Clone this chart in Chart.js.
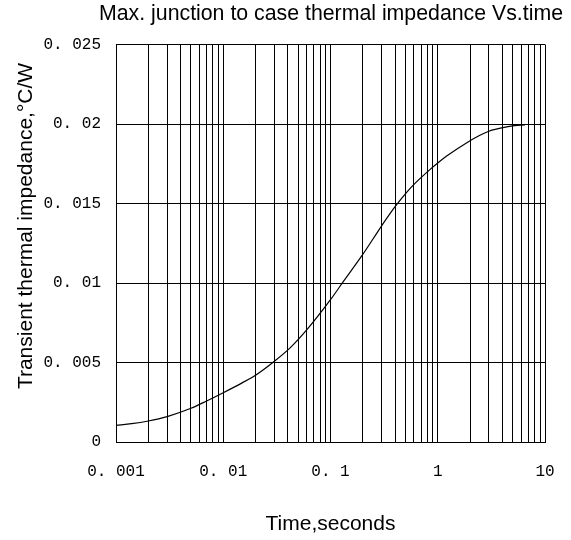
<!DOCTYPE html>
<html>
<head>
<meta charset="utf-8">
<script src="https://cdn.jsdelivr.net/npm/chart.js@4.4.1/dist/chart.umd.min.js"></script>
<style>
  html, body { margin: 0; padding: 0; background: #fff; }
  #wrap { width: 571px; height: 540px; position: relative; }
</style>
</head>
<body>
<div id="wrap"><canvas id="impedance-chart"></canvas></div>
<script>
// curve (time in s, impedance in °C/W)
const times = [0.001, 0.0014, 0.002, 0.003, 0.005, 0.007, 0.01, 0.015, 0.02, 0.03, 0.042, 0.06,
    0.1, 0.132, 0.2, 0.3, 0.4, 0.52, 0.62, 0.85, 1.0, 1.22, 2.0, 2.4, 3.0, 4.4, 5.2, 6.5];
const impedance = [0.00105, 0.00115, 0.00132, 0.0016, 0.00212, 0.00258, 0.0031, 0.00372, 0.0042, 0.00508, 0.00592, 0.00705,
    0.00895, 0.0101, 0.0118, 0.0136, 0.0148, 0.01575, 0.0163, 0.01715, 0.01755, 0.018, 0.01895, 0.01925, 0.01955, 0.01982, 0.0199, 0.01995];

const xDecades = [0.001, 0.01, 0.1, 1];
const xSteps = [1, 2, 3, 4, 5, 6, 7, 8, 9];
const xTickValues = [0.001, 0.01, 0.1, 1, 10];
const xTickLabels = ['0. 001', '0. 01', '0. 1', '1', '10'];
const yTickValues = [0, 0.005, 0.01, 0.015, 0.02, 0.025];
const yTickLabels = ['0', '0. 005', '0. 01', '0. 015', '0. 02', '0. 025'];

const chartTitle = 'Max. junction to case thermal impedance Vs.time';
const xTitle = 'Time,seconds';
const yTitle = 'Transient thermal impedance,\u00b0C/W';

// log grid: 1..9 in every decade, plus the end value
const gridTimes = [];
xDecades.forEach(d => xSteps.forEach(s => gridTimes.push(+(d * s).toPrecision(3))));
gridTimes.push(10);

// y axis title sits a little above the plot middle in the original
const yTitlePlugin = {
    id: 'yTitle',
    afterDraw(chart) {
        const ctx = chart.ctx;
        ctx.save();
        ctx.translate(26, 226);
        ctx.rotate(-Math.PI / 2);
        ctx.font = '21px "Liberation Sans", Arial, sans-serif';
        ctx.fillStyle = '#000';
        ctx.textAlign = 'center';
        ctx.textBaseline = 'middle';
        ctx.fillText(yTitle, 0, 0);
        ctx.restore();
    }
};

const ctx = document.getElementById('impedance-chart');

new Chart(ctx, {
    type: 'line',
    data: {
        datasets: [{
            data: times.map((t, i) => ({ x: t, y: impedance[i] })),
            borderColor: '#000',
            borderWidth: 1.2,
            pointRadius: 0,
            fill: false,
            cubicInterpolationMode: 'monotone'
        }]
    },
    options: {
        responsive: true,
        maintainAspectRatio: false,
        animation: false,
        layout: { padding: { left: 0, right: 8, top: 0, bottom: 0 } },
        plugins: {
            legend: { display: false },
            tooltip: { enabled: false },
            title: {
                display: true,
                text: chartTitle,
                align: 'end',
                color: '#000',
                font: { family: '"Liberation Sans", Arial, sans-serif', size: 21.3, weight: 'normal' },
                padding: { top: 1, bottom: 18 }
            }
        },
        scales: {
            x: {
                type: 'logarithmic',
                min: 0.001,
                max: 10,
                afterBuildTicks: scale => {
                    scale.ticks = gridTimes.map(v => ({ value: v }));
                },
                afterFit: scale => {
                    scale.height = 98;
                    scale.paddingRight = 26;
                },
                grid: { color: '#000', lineWidth: 1, drawTicks: false },
                border: { color: '#000', width: 1 },
                ticks: {
                    autoSkip: false,
                    maxRotation: 0,
                    padding: 20,
                    color: '#000',
                    font: { family: '"Liberation Mono", monospace', size: 16 },
                    callback: value => {
                        const k = xTickValues.findIndex(v => Math.abs(v - value) < v * 1e-6);
                        return k >= 0 ? xTickLabels[k] : '';
                    }
                },
                title: {
                    display: true,
                    text: xTitle,
                    color: '#000',
                    font: { family: '"Liberation Sans", Arial, sans-serif', size: 21 },
                    padding: { top: 0, bottom: 3 }
                }
            },
            y: {
                min: 0,
                max: 0.025,
                afterBuildTicks: scale => {
                    scale.ticks = yTickValues.map(v => ({ value: v }));
                },
                afterFit: scale => { scale.width = 116; },
                grid: { color: '#000', lineWidth: 1, drawTicks: false },
                border: { color: '#000', width: 1 },
                ticks: {
                    padding: 15,
                    color: '#000',
                    font: { family: '"Liberation Mono", monospace', size: 16 },
                    callback: (value, index) => yTickLabels[index]
                }
            }
        }
    },
    plugins: [yTitlePlugin]
});
</script>
</body>
</html>
